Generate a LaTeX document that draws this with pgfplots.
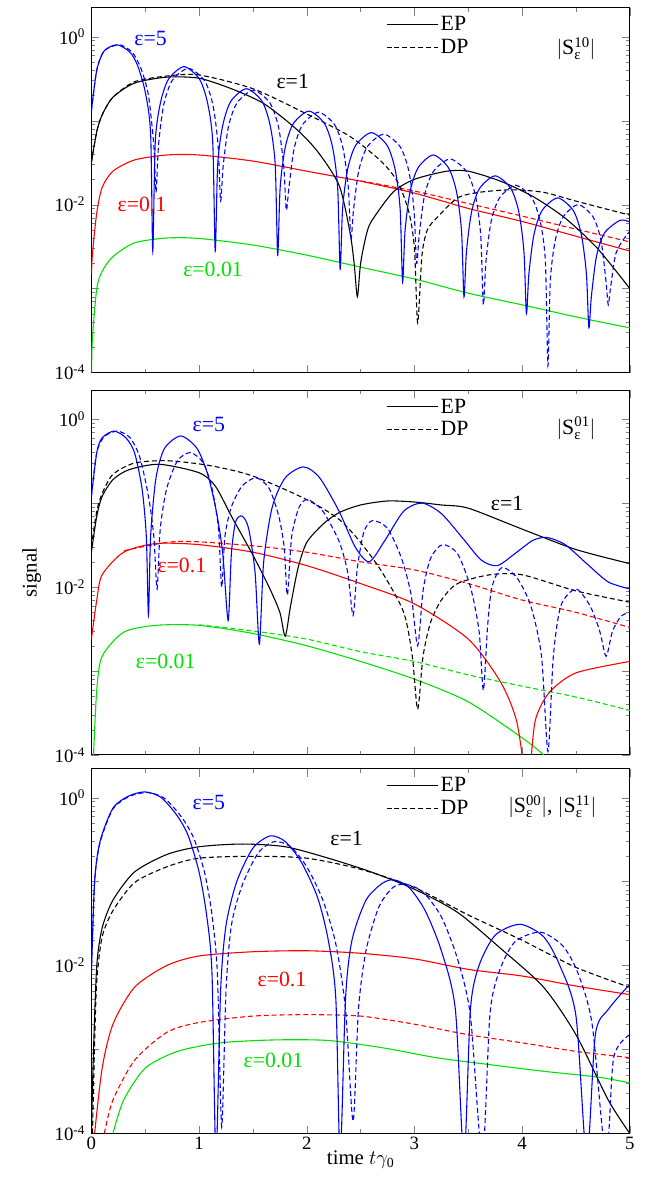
\documentclass[border=0pt]{standalone}
\usepackage{fontspec}
\setmainfont{Liberation Serif}
\usepackage{pgfplots}
\pgfplotsset{compat=1.18}
\definecolor{cb}{RGB}{0,0,255}
\definecolor{cr}{RGB}{255,0,0}
\definecolor{cg}{RGB}{0,225,0}
\tikzset{ds/.style={dash pattern=on 5pt off 3pt}}
\pgfplotsset{every axis/.append style={
    scale only axis, width=542bp, height=367bp,
    xmin=0, xmax=5, ymin=1e-4, ymax=2.2,
    xtick={0,1,2,3,4,5}, minor xtick={0.5,1.5,2.5,3.5,4.5},
    tick align=inside,
    major tick length=8pt, minor tick length=4pt,
    axis line style={line width=1pt},
    tick label style={font=\fontsize{19}{22}\selectfont},
    yticklabel style={xshift=-3pt},
    label style={font=\fontsize{21}{24}\selectfont},
    legend style={at={(0.545,0.985)}, anchor=north west, draw=none, fill=none,
      font=\fontsize{22}{25}\selectfont, row sep=3pt, inner sep=1pt},
    legend image code/.code={\draw[#1] (0bp,0bp)--(52bp,0bp);},
    legend cell align=left,
  },
  every axis plot/.append style={line width=1.1pt},
}
\tikzset{sm/.style={smooth, tension=0.45}}
\newcommand{\lab}[4]{\node[text=#1, font=\fontsize{22}{25}\selectfont] at (axis cs:#2,#3) {#4};}
\newcommand{\SL}[1]{$|$S$^{\mbox{\fontsize{15}{15}\selectfont #1}}_{\mbox{\fontsize{15}{15}\selectfont ε}}|$}
\begin{document}
\begin{tikzpicture}
\path[use as bounding box] (-92bp,-67bp) rectangle (573bp,1141bp);
% ================= TOP =================
\begin{axis}[ymode=log, at={(0,766bp)}, xticklabels={}, tick pos=both,
    ytick={1e-4,1e-3,1e-2,1e-1,1},
    yticklabels={10\textsuperscript{-4},,10\textsuperscript{-2},,10\textsuperscript{0}}]
\addlegendimage{black,line width=1.1pt}\addlegendentry{EP}
\addlegendimage{black,line width=1.1pt,ds}\addlegendentry{DP}
\addplot[cg,sm,forget plot] coordinates {(0.001,1e-4)(0.01,2.6e-4)(0.05,1e-3)(0.1,1.6e-3)(0.2,2.4e-3)(0.4,3.5e-3)(0.7,4e-3)(1,3.95e-3)(1.5,3.3e-3)(2,2.5e-3)(2.5,1.8e-3)(3,1.3e-3)(3.5,8.8e-4)(4,6.4e-4)(4.5,4.6e-4)(5,3.4e-4)};
\addplot[cr,sm,forget plot] coordinates {(0.001,1.5e-3)(0.01,2.6e-3)(0.05,8e-3)(0.1,0.016)(0.2,0.025)(0.4,0.034)(0.7,0.039)(1,0.039)(1.5,0.033)(2,0.025)(2.5,0.019)(3,0.0137)(3.5,9e-3)(4,6.3e-3)(4.5,4.2e-3)(5,2.8e-3)};
\addplot[cr,ds,sm,forget plot] coordinates {(2.5,0.0192)(3,0.0145)(3.5,0.0103)(4,7.3e-3)(4.5,5.1e-3)(5,3.6e-3)};
\addplot[black,sm,forget plot] coordinates {(0,0.032)(0.05,0.074)(0.1,0.117)(0.2,0.19)(0.4,0.28)(0.7,0.33)(1,0.32)(1.3,0.24)(1.6,0.16)(1.9,0.08)(2.1,0.043)(2.3,0.017)(2.4,4.8e-3)(2.44,2e-3)(2.47,8e-4)(2.5,2e-3)(2.55,4.2e-3)(2.6,6.3e-3)(2.8,0.014)(3,0.02)(3.3,0.025)(3.5,0.025)(3.8,0.019)(4.1,0.0125)(4.4,6.9e-3)(4.7,3e-3)(5,1e-3)};
\addplot[black,ds,sm,forget plot] coordinates {(0,0.032)(0.05,0.074)(0.1,0.117)(0.2,0.19)(0.4,0.29)(0.7,0.34)(1,0.35)(1.5,0.24)(2,0.12)(2.4,0.065)(2.7,0.032)(2.85,0.018)(2.95,8e-3)(3,3e-3)(3.03,3.9e-4)(3.07,2.5e-3)(3.12,5e-3)(3.21,7e-3)(3.4,0.012)(3.6,0.014)(3.9,0.015)(4.2,0.014)(4.5,0.011)(5,7.5e-3)};
\addplot[cb,sm,forget plot] coordinates {(0,0.13)(0.05,0.4)(0.12,0.68)(0.24,0.8)(0.36,0.65)(0.43,0.45)(0.5,0.22)(0.55,0.07)(0.57,2.8e-3)
(0.593,0.055)(0.64,0.16)(0.715,0.31)(0.86,0.44)(1.005,0.31)(1.08,0.16)(1.127,0.055)(1.15,2.8e-3)
(1.173,0.03)(1.22,0.088)(1.295,0.17)(1.44,0.24)(1.585,0.17)(1.66,0.088)(1.707,0.03)(1.73,2.5e-3)
(1.753,0.016)(1.80,0.048)(1.875,0.092)(2.02,0.13)(2.165,0.092)(2.24,0.048)(2.287,0.016)(2.31,1.7e-3)
(2.333,0.009)(2.38,0.0265)(2.455,0.051)(2.6,0.072)(2.745,0.051)(2.82,0.0265)(2.867,0.009)(2.89,1.2e-3)
(2.913,0.0049)(2.96,0.0144)(3.035,0.0276)(3.175,0.039)(3.315,0.0276)(3.39,0.0144)(3.437,0.0049)(3.46,8e-4)
(3.483,0.00275)(3.53,0.0081)(3.605,0.0156)(3.75,0.022)(3.895,0.0156)(3.97,0.0081)(4.017,0.00275)(4.04,5e-4)
(4.063,0.0015)(4.11,0.0044)(4.185,0.0085)(4.33,0.012)(4.475,0.0085)(4.55,0.0044)(4.597,0.0015)(4.62,3.4e-4)
(4.643,8e-4)(4.69,2.4e-3)(4.765,4.6e-3)(4.91,6.5e-3)(5,6.2e-3)};
\addplot[cb,ds,sm,forget plot] coordinates {(0,0.13)(0.05,0.4)(0.12,0.68)(0.26,0.8)(0.38,0.65)(0.46,0.42)(0.53,0.2)(0.58,0.05)(0.6,0.014)
(0.624,0.052)(0.672,0.155)(0.75,0.3)(0.9,0.42)(1.05,0.3)(1.128,0.155)(1.176,0.052)(1.2,0.011)
(1.224,0.029)(1.273,0.085)(1.353,0.163)(1.505,0.23)(1.657,0.163)(1.737,0.085)(1.786,0.029)(1.81,8.6e-3)
(1.834,0.0158)(1.882,0.046)(1.96,0.089)(2.11,0.126)(2.26,0.089)(2.338,0.046)(2.386,0.0158)(2.41,3.8e-3)
(2.434,0.0086)(2.483,0.0254)(2.563,0.049)(2.715,0.069)(2.867,0.049)(2.947,0.0254)(2.996,0.0086)(3.02,2e-3)
(3.045,0.0044)(3.094,0.0129)(3.175,0.0247)(3.33,0.035)(3.485,0.0247)(3.566,0.0129)(3.615,0.0044)(3.64,6.4e-4)
(3.664,0.0021)(3.712,0.0063)(3.79,0.012)(3.94,0.017)(4.09,0.012)(4.168,0.0063)(4.216,0.0021)(4.24,1.2e-4)
(4.262,0.00125)(4.307,0.0037)(4.38,0.0071)(4.52,0.01)(4.66,0.0071)(4.733,0.0037)(4.778,0.00125)(4.8,6.4e-4)
(4.82,1e-3)(4.87,2.6e-3)(4.95,4e-3)(5,4.8e-3)};
\lab{cb}{0.55}{0.95}{ε=5}
\lab{black}{1.87}{0.29}{ε=1}
\lab{cr}{0.47}{0.01}{ε=0.1}
\lab{cg}{1.13}{1.7e-3}{ε=0.01}
\node[font=\fontsize{22}{25}\selectfont] at (axis cs:4.5,0.72) {\SL{10}};
\end{axis}
% ================= MIDDLE =================
\begin{axis}[ymode=log, at={(0,381bp)}, xticklabels={}, tick pos=both, ylabel={signal},
    ylabel style={at={(axis description cs:-0.087,0.5)}},
    ytick={1e-4,1e-3,1e-2,1e-1,1},
    yticklabels={10\textsuperscript{-4},,10\textsuperscript{-2},,10\textsuperscript{0}}]
\addlegendimage{black,line width=1.1pt}\addlegendentry{EP}
\addlegendimage{black,line width=1.1pt,ds}\addlegendentry{DP}
\addplot[cg,sm,forget plot] coordinates {(0.02,1e-4)(0.05,6e-4)(0.1,1.5e-3)(0.3,2.9e-3)(0.6,3.5e-3)(1,3.5e-3)(1.5,2.8e-3)(2,2e-3)(2.5,1.3e-3)(3,8e-4)(3.5,4.3e-4)(4,1.6e-4)(4.2,1e-4)(4.3,7e-5)};
\addplot[cg,ds,sm,forget plot] coordinates {(1,3.55e-3)(1.5,3e-3)(2,2.4e-3)(2.5,1.7e-3)(3,1.3e-3)(3.5,9e-4)(4,6.6e-4)(4.5,4.9e-4)(5,3.4e-4)};
\addplot[cr,sm,forget plot] coordinates {(0,2.4e-3)(0.05,7e-3)(0.1,0.014)(0.3,0.026)(0.6,0.033)(1,0.032)(1.5,0.026)(2,0.018)(2.5,0.011)(3,6.3e-3)(3.5,2.4e-3)(3.8,7.4e-4)(3.95,2.5e-4)(4.03,5e-5)};
\addplot[cr,sm,forget plot] coordinates {(4.07,5e-5)(4.12,2.5e-4)(4.25,5.5e-4)(4.5,9.5e-4)(5,1.3e-3)};
\addplot[cr,ds,sm,forget plot] coordinates {(0.3,0.027)(0.8,0.035)(1.5,0.031)(2,0.026)(2.5,0.02)(3,0.016)(3.5,0.011)(4,7e-3)(4.5,5e-3)(5,3.3e-3)};
\addplot[black,sm,forget plot] coordinates {(0,0.026)(0.05,0.07)(0.1,0.12)(0.2,0.19)(0.35,0.25)(0.63,0.29)(1,0.23)(1.15,0.16)(1.3,0.07)(1.5,0.024)(1.65,0.01)(1.75,5e-3)(1.8,2.6e-3)(1.85,6e-3)(1.92,0.017)(2.0,0.034)(2.15,0.056)(2.3,0.077)(2.5,0.095)(2.75,0.106)(3,0.103)(3.25,0.095)(3.5,0.087)(4,0.049)(4.5,0.028)(5,0.019)};
\addplot[black,ds,sm,forget plot] coordinates {(0,0.03)(0.05,0.08)(0.1,0.13)(0.2,0.22)(0.4,0.3)(0.7,0.32)(1.1,0.28)(1.5,0.21)(2,0.11)(2.3,0.064)(2.5,0.034)(2.7,0.015)(2.9,5e-3)(2.98,1.5e-3)(3.03,3.5e-4)(3.08,1.5e-3)(3.15,3.8e-3)(3.25,7e-3)(3.4,0.011)(3.7,0.014)(4,0.014)(4.5,9e-3)(5,6.6e-3)};
\addplot[cb,sm,forget plot] coordinates {(0,0.12)(0.05,0.4)(0.1,0.6)(0.21,0.72)(0.32,0.6)(0.4,0.4)(0.47,0.15)(0.51,0.04)(0.53,4.6e-3)(0.55,0.04)(0.6,0.2)(0.68,0.45)(0.83,0.63)(0.98,0.45)(1.08,0.22)(1.16,0.08)(1.22,0.025)(1.27,4e-3)(1.3,0.025)(1.34,0.06)(1.40,0.07)(1.46,0.05)(1.52,0.015)(1.56,2.1e-3)(1.6,0.02)(1.68,0.09)(1.8,0.2)(1.97,0.27)(2.12,0.2)(2.3,0.08)(2.45,0.03)(2.58,0.02)(2.72,0.035)(2.9,0.08)(3.07,0.1)(3.25,0.075)(3.45,0.038)(3.62,0.021)(3.77,0.018)(3.95,0.026)(4.1,0.036)(4.23,0.039)(4.4,0.032)(4.6,0.019)(4.8,0.0115)(5,0.0095)};
\addplot[cb,ds,sm,forget plot] coordinates {(0,0.12)(0.05,0.4)(0.12,0.62)(0.24,0.72)(0.36,0.6)(0.45,0.35)(0.53,0.12)(0.58,0.04)(0.61,9.5e-3)(0.64,0.05)(0.7,0.15)(0.8,0.32)(0.92,0.4)(1.04,0.3)(1.12,0.15)(1.18,0.05)(1.21,0.01)(1.24,0.04)(1.3,0.09)(1.4,0.16)(1.53,0.2)(1.65,0.15)(1.74,0.07)(1.79,0.03)(1.82,8e-3)(1.86,0.04)(1.93,0.09)(2.01,0.11)(2.15,0.08)(2.3,0.035)(2.38,0.015)(2.43,4.6e-3)(2.47,0.017)(2.53,0.045)(2.61,0.062)(2.75,0.05)(2.88,0.022)(2.97,0.008)(3.03,2e-3)(3.08,0.009)(3.15,0.022)(3.26,0.032)(3.4,0.025)(3.52,0.01)(3.6,3e-3)(3.64,5.9e-4)(3.68,3.5e-3)(3.72,0.01)(3.81,0.017)(3.95,0.013)(4.08,0.006)(4.18,1.5e-3)(4.24,1.1e-4)(4.29,1.5e-3)(4.36,0.006)(4.5,0.0095)(4.63,0.006)(4.72,3e-3)(4.78,1.5e-3)(4.84,3e-3)(4.92,0.0045)(5,0.005)};
\lab{cb}{1.09}{0.87}{ε=5}
\lab{black}{3.86}{0.1}{ε=1}
\lab{cr}{0.84}{0.018}{ε=0.1}
\lab{cg}{0.69}{1.3e-3}{ε=0.01}
\node[font=\fontsize{22}{25}\selectfont] at (axis cs:4.5,0.78) {\SL{01}};
\end{axis}
% ================= BOTTOM =================
\begin{axis}[ymode=log, at={(0,0)}, tick pos=both, xlabel={time $t\gamma_{\mbox{\fontsize{14}{14}\selectfont 0}}$}, xlabel style={yshift=6pt},
    ytick={1e-4,1e-3,1e-2,1e-1,1},
    yticklabels={10\textsuperscript{-4},,10\textsuperscript{-2},,10\textsuperscript{0}},
    xticklabels={0,1,2,3,4,5}]
\addlegendimage{black,line width=1.1pt}\addlegendentry{EP}
\addlegendimage{black,line width=1.1pt,ds}\addlegendentry{DP}
\addplot[cg,sm,forget plot] coordinates {(0.2,1e-4)(0.3,2.5e-4)(0.5,6e-4)(0.8,9.5e-4)(1.2,1.2e-3)(1.7,1.3e-3)(2.2,1.28e-3)(2.7,1.05e-3)(3.2,8e-4)(3.7,6.6e-4)(4.2,5.5e-4)(4.7,4.7e-4)(5,4e-4)};
\addplot[cr,sm,forget plot] coordinates {(0.03,1e-4)(0.1,6e-4)(0.2,2e-3)(0.4,5.5e-3)(0.7,0.01)(1,0.013)(1.5,0.0146)(2,0.015)(2.5,0.014)(3,0.012)(3.5,9e-3)(4,7.5e-3)(4.5,5.7e-3)(5,4.5e-3)};
\addplot[cr,ds,sm,forget plot] coordinates {(0.12,1e-4)(0.2,2.5e-4)(0.4,7.4e-4)(0.7,1.6e-3)(1,2.1e-3)(1.5,2.5e-3)(2,2.6e-3)(2.5,2.5e-3)(3,2e-3)(3.5,1.5e-3)(4,1.2e-3)(4.5,9.5e-4)(5,8e-4)};
\addplot[black,sm,forget plot] coordinates {(0,1e-4)(0.02,1e-3)(0.05,0.01)(0.1,0.028)(0.2,0.06)(0.4,0.13)(0.7,0.21)(1,0.26)(1.4,0.28)(1.8,0.26)(2.2,0.19)(2.6,0.13)(3,0.081)(3.4,0.043)(3.8,0.016)(4.2,5.5e-3)(4.5,1.5e-3)(4.8,2.5e-4)(5,1e-4)};
\addplot[black,ds,sm,forget plot] coordinates {(0.01,1e-4)(0.03,1.2e-3)(0.05,6.6e-3)(0.1,0.022)(0.2,0.045)(0.4,0.097)(0.7,0.15)(1,0.19)(1.5,0.2)(2,0.19)(2.5,0.14)(3,0.085)(3.5,0.04)(4,0.02)(4.5,9.5e-3)(5,5.5e-3)};
\addplot[cb,sm,forget plot] coordinates {(0,0.008)(0.03,0.1)(0.08,0.3)(0.2,0.75)(0.35,1.05)(0.5,1.17)(0.65,1.0)(0.8,0.6)(0.9,0.35)(1.0,0.13)(1.07,0.04)(1.12,8e-3)(1.157,5e-5)
(1.2,5e-3)(1.25,0.03)(1.35,0.1)(1.5,0.25)(1.66,0.35)(1.8,0.3)(1.95,0.17)(2.1,0.065)(2.2,0.02)(2.27,4e-3)(2.31,5e-5)
(2.36,4e-3)(2.42,0.02)(2.55,0.06)(2.7,0.095)(2.81,0.105)(2.95,0.085)(3.1,0.045)(3.25,0.015)(3.38,3e-3)(3.46,5e-5)
(3.52,3e-3)(3.6,0.01)(3.75,0.023)(3.98,0.031)(4.2,0.022)(4.35,0.01)(4.5,2.5e-3)(4.6,5e-5)(4.68,1.5e-3)(4.8,3e-3)(5,6e-3)};
\addplot[cb,ds,sm,forget plot] coordinates {(0,0.008)(0.03,0.1)(0.08,0.29)(0.2,0.73)(0.35,1.03)(0.52,1.15)(0.68,0.98)(0.84,0.58)(0.95,0.33)(1.05,0.13)(1.12,0.04)(1.17,8e-3)(1.21,1.2e-4)
(1.25,5e-3)(1.3,0.03)(1.4,0.09)(1.55,0.22)(1.7,0.3)(1.85,0.26)(2.0,0.15)(2.15,0.06)(2.27,0.018)(2.36,3e-3)(2.43,1.4e-4)
(2.48,3e-3)(2.55,0.015)(2.67,0.05)(2.8,0.085)(2.92,0.093)(3.08,0.075)(3.25,0.038)(3.4,0.012)(3.52,2.5e-3)(3.63,5e-5)
(3.7,2.5e-3)(3.78,0.008)(3.93,0.019)(4.17,0.025)(4.38,0.017)(4.52,0.008)(4.65,2e-3)(4.78,5e-5)(4.85,8e-4)(5,1.5e-3)};
\lab{cb}{1.09}{0.87}{ε=5}
\lab{black}{2.37}{0.33}{ε=1}
\lab{cr}{1.77}{6.9e-3}{ε=0.1}
\lab{cg}{1.69}{7.4e-4}{ε=0.01}
\node[font=\fontsize{22}{25}\selectfont] at (axis cs:4.28,0.78) {\SL{00}, \SL{11}};
\end{axis}
\end{tikzpicture}
\end{document}
